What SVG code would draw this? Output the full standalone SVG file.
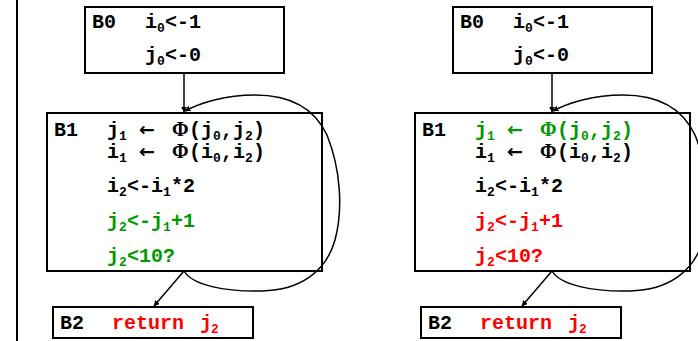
<svg xmlns="http://www.w3.org/2000/svg" width="698" height="341" viewBox="0 0 698 341">
  <style>
    .box { fill: #ffffff; stroke: #000000; stroke-width: 2; }
    .t { font-family: "Liberation Mono", "Courier New", monospace; font-weight: bold; font-size: 20px; fill: #000000; }
    .s { font-size: 13px; }
    .sym { font-family: "DejaVu Sans", sans-serif; font-weight: bold; font-size: 19px; }
    .phi { font-family: "Liberation Serif", "Times New Roman", serif; font-weight: bold; font-size: 20px; }
    .g { fill: #009900; }
    .r { fill: #ff0000; }
    .edge { fill: none; stroke: #000000; stroke-width: 1.5; }
  </style>
  <defs>
    <marker id="ah" viewBox="0 0 10 10" refX="9" refY="5" markerWidth="6" markerHeight="6" orient="auto" markerUnits="userSpaceOnUse">
      <path d="M0,0 L10,5 L0,10 z" fill="#000000"/>
    </marker>
  </defs>
  <rect width="698" height="341" fill="#ffffff"/>

  <!-- separator rule on the left -->
  <line x1="17" y1="0" x2="17" y2="341" stroke="#000000" stroke-width="2"/>

  <!-- ===== left CFG ===== -->
  <g id="B0-left">
    <rect class="box" x="85" y="7" width="199" height="66"/>
    <text class="t" x="92" y="28">B0</text>
    <text class="t" y="28"><tspan x="145">i</tspan><tspan class="s" x="157" dy="4">0</tspan><tspan x="165" dy="-4">&lt;-1</tspan></text>
    <text class="t" y="61"><tspan x="145">j</tspan><tspan class="s" x="157" dy="4">0</tspan><tspan x="165" dy="-4">&lt;-0</tspan></text>
  </g>

  <g id="B1-left">
    <rect class="box" x="47" y="113" width="275" height="158"/>
    <text class="t" x="54" y="136">B1</text>
    <text class="t" y="136"><tspan x="107">j</tspan><tspan class="s" x="119" dy="4">1</tspan><tspan class="sym" x="139" dy="-4">←</tspan><tspan class="phi" x="172">Φ</tspan><tspan x="189">(j</tspan><tspan class="s" x="213" dy="4">0</tspan><tspan x="221" dy="-4">,j</tspan><tspan class="s" x="245" dy="4">2</tspan><tspan x="253" dy="-4">)</tspan></text>
    <text class="t" y="158"><tspan x="107">i</tspan><tspan class="s" x="119" dy="4">1</tspan><tspan class="sym" x="139" dy="-4">←</tspan><tspan class="phi" x="172">Φ</tspan><tspan x="189">(i</tspan><tspan class="s" x="213" dy="4">0</tspan><tspan x="221" dy="-4">,i</tspan><tspan class="s" x="245" dy="4">2</tspan><tspan x="253" dy="-4">)</tspan></text>
    <text class="t" y="192"><tspan x="107">i</tspan><tspan class="s" x="119" dy="4">2</tspan><tspan x="127" dy="-4">&lt;-i</tspan><tspan class="s" x="163" dy="4">1</tspan><tspan x="171" dy="-4">*2</tspan></text>
    <text class="t g" y="227"><tspan x="107">j</tspan><tspan class="s" x="119" dy="4">2</tspan><tspan x="127" dy="-4">&lt;-j</tspan><tspan class="s" x="163" dy="4">1</tspan><tspan x="171" dy="-4">+1</tspan></text>
    <text class="t g" y="262"><tspan x="107">j</tspan><tspan class="s" x="119" dy="4">2</tspan><tspan x="127" dy="-4">&lt;10?</tspan></text>
  </g>

  <g id="B2-left">
    <rect class="box" x="53" y="307" width="200" height="31"/>
    <text class="t" x="60" y="329">B2</text>
    <text class="t r" y="329"><tspan x="112">return</tspan><tspan x="200">j</tspan><tspan class="s" x="211" dy="4">2</tspan></text>
  </g>

  <!-- ===== right CFG ===== -->
  <g id="B0-right" transform="translate(368,0)">
    <rect class="box" x="85" y="7" width="199" height="66"/>
    <text class="t" x="92" y="28">B0</text>
    <text class="t" y="28"><tspan x="145">i</tspan><tspan class="s" x="157" dy="4">0</tspan><tspan x="165" dy="-4">&lt;-1</tspan></text>
    <text class="t" y="61"><tspan x="145">j</tspan><tspan class="s" x="157" dy="4">0</tspan><tspan x="165" dy="-4">&lt;-0</tspan></text>
  </g>

  <g id="B1-right" transform="translate(368,0)">
    <rect class="box" x="47" y="113" width="275" height="158"/>
    <text class="t" x="54" y="136">B1</text>
    <text class="t g" y="136"><tspan x="107">j</tspan><tspan class="s" x="119" dy="4">1</tspan><tspan class="sym" x="139" dy="-4">←</tspan><tspan class="phi" x="172">Φ</tspan><tspan x="189">(j</tspan><tspan class="s" x="213" dy="4">0</tspan><tspan x="221" dy="-4">,j</tspan><tspan class="s" x="245" dy="4">2</tspan><tspan x="253" dy="-4">)</tspan></text>
    <text class="t" y="158"><tspan x="107">i</tspan><tspan class="s" x="119" dy="4">1</tspan><tspan class="sym" x="139" dy="-4">←</tspan><tspan class="phi" x="172">Φ</tspan><tspan x="189">(i</tspan><tspan class="s" x="213" dy="4">0</tspan><tspan x="221" dy="-4">,i</tspan><tspan class="s" x="245" dy="4">2</tspan><tspan x="253" dy="-4">)</tspan></text>
    <text class="t" y="192"><tspan x="107">i</tspan><tspan class="s" x="119" dy="4">2</tspan><tspan x="127" dy="-4">&lt;-i</tspan><tspan class="s" x="163" dy="4">1</tspan><tspan x="171" dy="-4">*2</tspan></text>
    <text class="t r" y="227"><tspan x="107">j</tspan><tspan class="s" x="119" dy="4">2</tspan><tspan x="127" dy="-4">&lt;-j</tspan><tspan class="s" x="163" dy="4">1</tspan><tspan x="171" dy="-4">+1</tspan></text>
    <text class="t r" y="262"><tspan x="107">j</tspan><tspan class="s" x="119" dy="4">2</tspan><tspan x="127" dy="-4">&lt;10?</tspan></text>
  </g>

  <g id="B2-right" transform="translate(368,0)">
    <rect class="box" x="53" y="307" width="200" height="31"/>
    <text class="t" x="60" y="329">B2</text>
    <text class="t r" y="329"><tspan x="112">return</tspan><tspan x="200">j</tspan><tspan class="s" x="211" dy="4">2</tspan></text>
  </g>

  <!-- control-flow edges -->
  <g id="edges">
    <line class="edge" x1="184" y1="73" x2="184" y2="112" marker-end="url(#ah)"/>
    <line class="edge" x1="184" y1="271" x2="154" y2="306" marker-end="url(#ah)"/>
    <path class="edge" d="M184,271 C192,285 225,292 262,291 C300,290 326,272 335,240 C343,210 341,170 327,135 C313,105 285,95 255,95 C225,95 200,103 185,111" marker-end="url(#ah)"/>

    <line class="edge" x1="552" y1="73" x2="552" y2="112" marker-end="url(#ah)"/>
    <line class="edge" x1="552" y1="271" x2="522" y2="306" marker-end="url(#ah)"/>
    <path class="edge" d="M552,271 C560,285 593,292 630,291 C668,290 694,272 703,240 C711,210 709,170 695,135 C681,105 653,95 623,95 C593,95 568,103 553,111" marker-end="url(#ah)"/>
  </g>
</svg>
